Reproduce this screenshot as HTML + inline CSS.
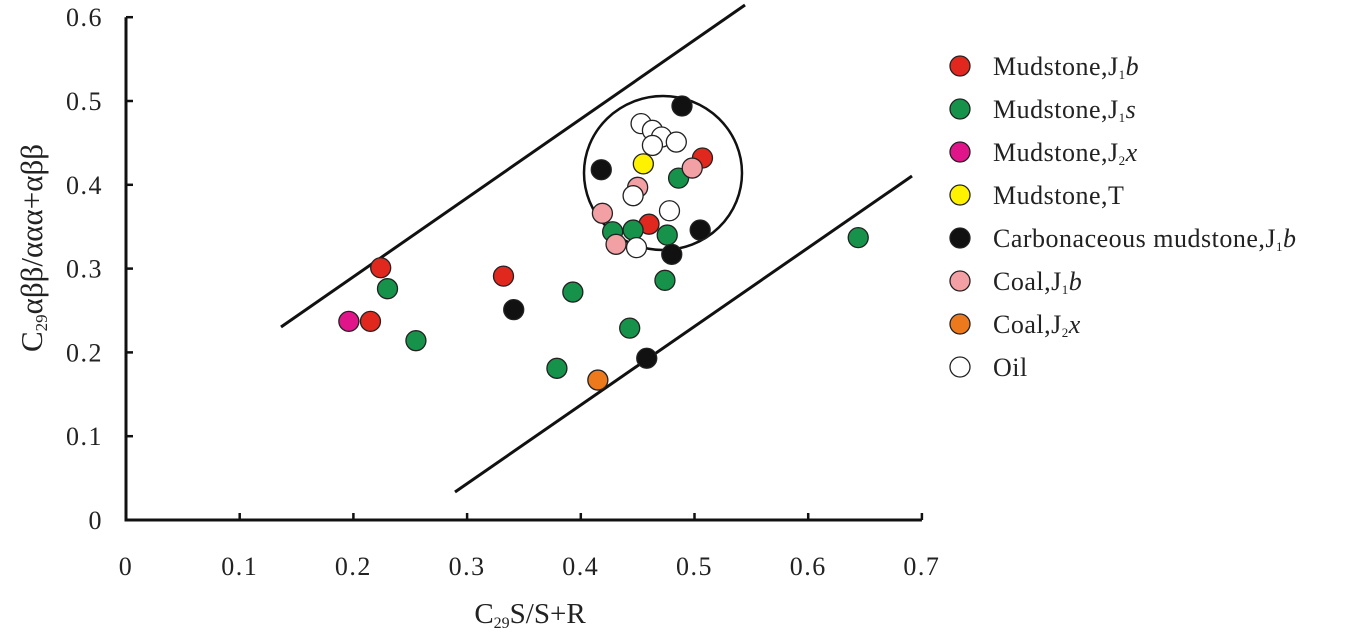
<!DOCTYPE html>
<html><head><meta charset="utf-8"><style>
html,body{margin:0;padding:0;background:#fff;width:1350px;height:638px;overflow:hidden}
svg text{font-family:"Liberation Serif",serif;fill:#222}
</style></head><body>
<svg id="chart" width="1350" height="638" viewBox="0 0 1350 638"></svg>
<script>
const xTicks=[0,0.1,0.2,0.3,0.4,0.5,0.6,0.7];
const yTicks=[0,0.1,0.2,0.3,0.4,0.5,0.6];
const seriesNames=["Mudstone,J1b","Mudstone,J1s","Mudstone,J2x","Mudstone,T","Carbonaceous mudstone,J1b","Coal,J1b","Coal,J2x","Oil"];
const seriesColors=["#e0281e","#16924a","#e0158a","#fff200","#111111","#f2a0a4","#ec7a1c","#ffffff"];
const redX=[0.224,0.215,0.332,0.507,0.460];
const redY=[0.301,0.237,0.291,0.432,0.353];
const greenX=[0.230,0.255,0.379,0.393,0.443,0.474,0.644,0.486,0.428,0.446,0.476];
const greenY=[0.276,0.214,0.181,0.272,0.229,0.286,0.337,0.408,0.344,0.346,0.340];
const magentaX=[0.196];
const magentaY=[0.237];
const yellowX=[0.455];
const yellowY=[0.425];
const blackX=[0.341,0.458,0.480,0.505,0.418,0.489];
const blackY=[0.251,0.193,0.317,0.346,0.418,0.494];
const pinkX=[0.419,0.431,0.450,0.498];
const pinkY=[0.366,0.329,0.397,0.420];
const orangeX=[0.415];
const orangeY=[0.167];
const oilX=[0.453,0.463,0.471,0.484,0.463,0.446,0.478,0.449];
const oilY=[0.473,0.465,0.457,0.451,0.447,0.387,0.369,0.325];

const X0=126,XPU=1137,Y0=520,YPU=838;
const sx=v=>X0+v*XPU, sy=v=>Y0-v*YPU;
const NS="http://www.w3.org/2000/svg";
const svg=document.getElementById('chart');
function el(t,a,p){const e=document.createElementNS(NS,t);for(const k in a)e.setAttribute(k,a[k]);(p||svg).appendChild(e);return e;}

const ax=el('path',{d:`M${sx(0)},${sy(0.6)} V${sy(0)} H${sx(0.7)}`,fill:'none',stroke:'#111','stroke-width':3});


xTicks.forEach(t=>{
  if(t>0){const l=el('line',{x1:sx(t),x2:sx(t),y1:sy(0),y2:sy(0)-7,stroke:'#111','stroke-width':2.5});
  
  }
  const tx=el('text',{x:sx(t),y:575,'text-anchor':'middle','font-size':26,'letter-spacing':1.5});tx.textContent=String(t);
  
  
});
yTicks.forEach(t=>{
  if(t>0){const l=el('line',{x1:sx(0),x2:sx(0)+7,y1:sy(t),y2:sy(t),stroke:'#111','stroke-width':2.5});
  
  }
  const tx=el('text',{x:103,y:sy(t)+9,'text-anchor':'end','font-size':26,'letter-spacing':1.5});tx.textContent=String(t);
  
  
});
const xt=el('text',{x:530,y:623,'text-anchor':'middle','font-size':29});
xt.innerHTML='C<tspan font-size="16" dy="5">29</tspan><tspan dy="-5">S/S+R</tspan>';


const yt=el('text',{x:0,y:0,'text-anchor':'middle','font-size':31,transform:'translate(42,248) rotate(-90)'});
yt.innerHTML='C<tspan font-size="17" dy="5">29</tspan><tspan dy="-5">αββ/ααα+αββ</tspan>';



const l1=el('line',{x1:281,y1:327,x2:745,y2:5,stroke:'#111','stroke-width':3});


const l2=el('line',{x1:455,y1:492,x2:912,y2:176,stroke:'#111','stroke-width':3});


const c=el('ellipse',{cx:663,cy:173,rx:79,ry:77,fill:'none',stroke:'#111','stroke-width':2.5});



const groups=[[redX,redY],[greenX,greenY],[magentaX,magentaY],[yellowX,yellowY],[blackX,blackY],[pinkX,pinkY],[orangeX,orangeY],[oilX,oilY]];
const names=['mudstone-j1b','mudstone-j1s','mudstone-j2x','mudstone-t','carbonaceous-mudstone','coal-j1b','coal-j2x','oil'];
groups.forEach((g,i)=>{
  g[0].forEach((xv,j)=>{
    const p=el('circle',{cx:sx(xv),cy:sy(g[1][j]),r:10,fill:seriesColors[i],stroke:'#222','stroke-width':1.3});
    
    
  });
});

const legendHtml=['Mudstone,J<tspan font-size="13" dy="4">1</tspan><tspan dy="-4" font-style="italic">b</tspan>',
'Mudstone,J<tspan font-size="13" dy="4">1</tspan><tspan dy="-4" font-style="italic">s</tspan>',
'Mudstone,J<tspan font-size="13" dy="4">2</tspan><tspan dy="-4" font-style="italic">x</tspan>',
'Mudstone,T',
'Carbonaceous mudstone,J<tspan font-size="13" dy="4">1</tspan><tspan dy="-4" font-style="italic">b</tspan>',
'Coal,J<tspan font-size="13" dy="4">1</tspan><tspan dy="-4" font-style="italic">b</tspan>',
'Coal,J<tspan font-size="13" dy="4">2</tspan><tspan dy="-4" font-style="italic">x</tspan>',
'Oil'];
seriesNames.forEach((n,i)=>{
  const y=66+i*43;
  const g=el('g',{});
  
  
  el('circle',{cx:960,cy:y,r:10,fill:seriesColors[i],stroke:'#222','stroke-width':1.3},g);
  const t=el('text',{x:993,y:y+9,'font-size':26,'letter-spacing':0.5},g);
  t.innerHTML=legendHtml[i];
});
</script>
</body></html>
